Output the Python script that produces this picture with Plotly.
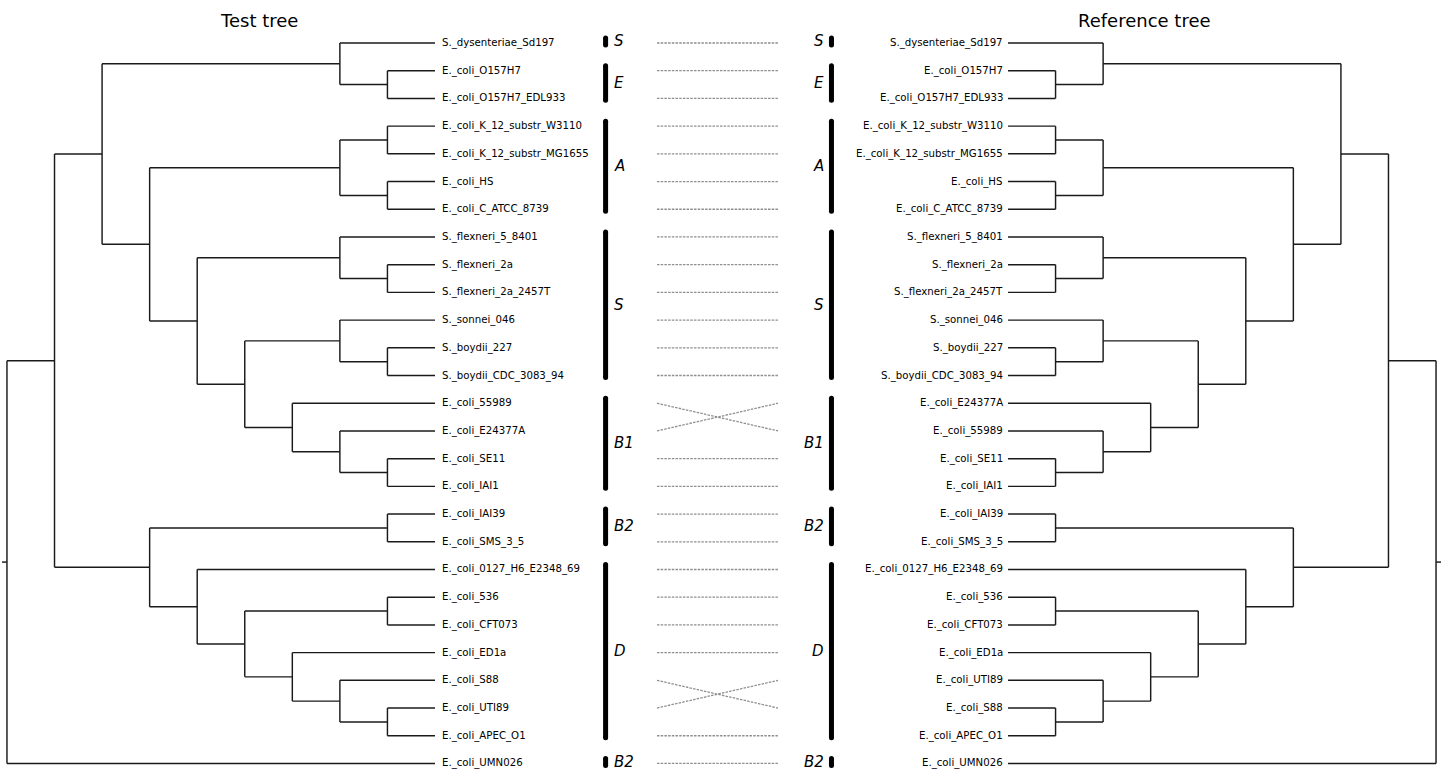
import plotly.graph_objects as go

# ---------------- data ----------------
left_tree = (
    (
        ("S._dysenteriae_Sd197", ("E._coli_O157H7", "E._coli_O157H7_EDL933")),
        (
            (("E._coli_K_12_substr_W3110", "E._coli_K_12_substr_MG1655"),
             ("E._coli_HS", "E._coli_C_ATCC_8739")),
            (
                ("S._flexneri_5_8401", ("S._flexneri_2a", "S._flexneri_2a_2457T")),
                (
                    ("S._sonnei_046", ("S._boydii_227", "S._boydii_CDC_3083_94")),
                    ("E._coli_55989", ("E._coli_E24377A", ("E._coli_SE11", "E._coli_IAI1"))),
                ),
            ),
        ),
    ),
    (
        ("E._coli_IAI39", "E._coli_SMS_3_5"),
        (
            "E._coli_0127_H6_E2348_69",
            (("E._coli_536", "E._coli_CFT073"),
             ("E._coli_ED1a", ("E._coli_S88", ("E._coli_UTI89", "E._coli_APEC_O1")))),
        ),
    ),
)
left_tree = (left_tree, "E._coli_UMN026")

right_tree = (
    (
        ("S._dysenteriae_Sd197", ("E._coli_O157H7", "E._coli_O157H7_EDL933")),
        (
            (("E._coli_K_12_substr_W3110", "E._coli_K_12_substr_MG1655"),
             ("E._coli_HS", "E._coli_C_ATCC_8739")),
            (
                ("S._flexneri_5_8401", ("S._flexneri_2a", "S._flexneri_2a_2457T")),
                (
                    ("S._sonnei_046", ("S._boydii_227", "S._boydii_CDC_3083_94")),
                    ("E._coli_E24377A", ("E._coli_55989", ("E._coli_SE11", "E._coli_IAI1"))),
                ),
            ),
        ),
    ),
    (
        ("E._coli_IAI39", "E._coli_SMS_3_5"),
        (
            "E._coli_0127_H6_E2348_69",
            (("E._coli_536", "E._coli_CFT073"),
             ("E._coli_ED1a", ("E._coli_UTI89", ("E._coli_S88", "E._coli_APEC_O1")))),
        ),
    ),
)
right_tree = (right_tree, "E._coli_UMN026")

clade_names = ["S", "E", "A", "S", "B1", "B2", "D", "B2"]
clade_first = [0, 1, 3, 7, 13, 17, 19, 26]
clade_last = [0, 2, 6, 12, 16, 18, 25, 26]

titles = ["Test tree", "Reference tree"]

# ---------------- layout of trees ----------------
def layout(tree):
    leaves, segs = [], []

    def rec(node):
        if isinstance(node, str):
            leaves.append(node)
            return 0, len(leaves) - 1
        kids = [rec(c) for c in node]
        h = max(k[0] for k in kids) + 1
        ys = [k[1] for k in kids]
        y = (min(ys) + max(ys)) / 2
        segs.append(((h, min(ys)), (h, max(ys))))
        for kh, ky in kids:
            segs.append(((h, ky), (kh, ky)))
        return h, y

    root_h, root_y = rec(tree)
    segs.append(((root_h, root_y), (root_h + 0.105, root_y)))
    return leaves, segs


def seg_xy(segs):
    xs, ys = [], []
    for (x0, y0), (x1, y1) in segs:
        xs += [x0, x1, None]
        ys += [y0, y1, None]
    return xs, ys


left_leaves, left_segs = layout(left_tree)
right_leaves, right_segs = layout(right_tree)

fig = go.Figure()
LINE = dict(color="#1a1a1a", width=1.45)

lx, ly = seg_xy(left_segs)
fig.add_trace(go.Scatter(x=lx, y=ly, mode="lines", line=LINE, xaxis="x", yaxis="y",
                         hoverinfo="skip", showlegend=False))
rx, ry = seg_xy(right_segs)
fig.add_trace(go.Scatter(x=rx, y=ry, mode="lines", line=LINE, xaxis="x2", yaxis="y",
                         hoverinfo="skip", showlegend=False))

# connectors
MID_L, MID_R = 0.2765, 0.6958
cx, cy = [], []
for i, name in enumerate(left_leaves):
    j = right_leaves.index(name)
    cx += [MID_L, MID_R, None]
    cy += [i, j, None]
fig.add_trace(go.Scatter(x=cx, y=cy, mode="lines",
                         line=dict(color="#8f8f8f", width=1.3, dash="2.5px,1.2px"),
                         xaxis="x3", yaxis="y", hoverinfo="skip", showlegend=False))

# clade bars
BAR_L, BAR_R = 0.0984, 0.881
annotations = []
for name, a, b in zip(clade_names, clade_first, clade_last):
    y0, y1 = a - 0.18, b + 0.07
    for bx in (BAR_L, BAR_R):
        fig.add_trace(go.Scatter(x=[bx, bx], y=[y0, y1], mode="lines+markers",
                                 line=dict(color="black", width=5),
                                 marker=dict(color="black", size=5),
                                 xaxis="x3", yaxis="y", hoverinfo="skip", showlegend=False))
    yc = (y0 + y1) / 2
    annotations.append(dict(x=BAR_L, y=yc, xref="x3", yref="y", text=name, showarrow=False,
                            xanchor="left", yanchor="middle", xshift=6,
                            font=dict(family="DejaVu Sans", size=15, color="black", style="italic")))
    annotations.append(dict(x=BAR_R, y=yc, xref="x3", yref="y", text=name, showarrow=False,
                            xanchor="right", yanchor="middle", xshift=-5,
                            font=dict(family="DejaVu Sans", size=15, color="black", style="italic")))

LEAF_FONT = dict(family="DejaVu Sans", size=10.2, color="black")
for i, name in enumerate(left_leaves):
    annotations.append(dict(x=0, y=i, xref="x", yref="y", text=name, showarrow=False,
                            xanchor="left", yanchor="middle", xshift=5, font=LEAF_FONT))
for i, name in enumerate(right_leaves):
    annotations.append(dict(x=0, y=i, xref="x2", yref="y", text=name, showarrow=False,
                            xanchor="right", yanchor="middle", xshift=-3, font=LEAF_FONT))

for t, px in zip(titles, [259, 1144]):
    annotations.append(dict(x=px / 1443, y=1 - 20 / 773, xref="paper", yref="paper", text=t,
                            showarrow=False, xanchor="center", yanchor="middle",
                            font=dict(family="DejaVu Sans", size=18, color="black")))

STEP = 47.56
W, H = 1443, 773
ROW0, ROWSTEP = 43.0, 27.71
hidden = dict(visible=False, showgrid=False, zeroline=False, fixedrange=True)

fig.update_layout(
    width=W, height=H,
    margin=dict(l=0, r=0, t=0, b=0),
    paper_bgcolor="white", plot_bgcolor="white",
    showlegend=False,
    xaxis=dict(domain=[0, 0.4], range=[435 / STEP, (435 - 0.4 * W) / STEP], anchor="y", **hidden),
    xaxis2=dict(domain=[0.6, 1], range=[(0.6 * W - 1008) / STEP, (W - 1008) / STEP], anchor="y", **hidden),
    xaxis3=dict(domain=[0.4, 0.6], range=[0, 1], anchor="y", **hidden),
    yaxis=dict(domain=[0, 1], range=[(H - ROW0) / ROWSTEP, -ROW0 / ROWSTEP], **hidden),
    annotations=annotations,
)

fig.write_html("out.html", config={"displayModeBar": False},
               post_script="document.body.style.margin='0';document.body.style.overflow='hidden';")
